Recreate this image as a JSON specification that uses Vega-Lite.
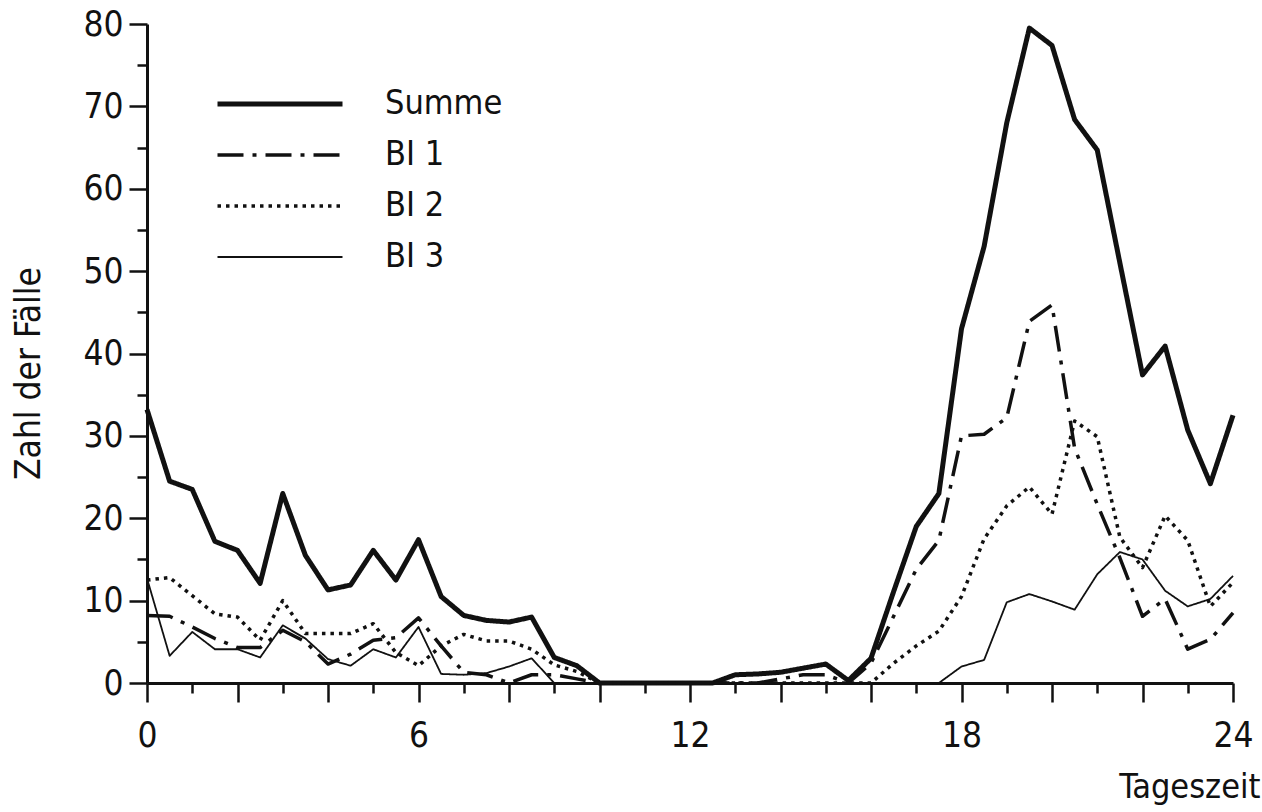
{
  "$schema": "https://vega.github.io/schema/vega-lite/v6.json",
  "width": 1086,
  "height": 659,
  "autosize": {"type": "none"},
  "padding": {"left": 147, "top": 24, "right": 29, "bottom": 129},
  "background": "white",
  "config": {
    "view": {"stroke": null},
    "font": "DejaVu Sans Condensed, DejaVu Sans",
    "axis": {
      "grid": false,
      "domainColor": "#111",
      "domainWidth": 3,
      "tickColor": "#111",
      "tickWidth": 2.5,
      "labelColor": "#111",
      "labelFont": "DejaVu Sans Condensed, DejaVu Sans",
      "labelFontSize": 35,
      "titleFont": "DejaVu Sans Condensed, DejaVu Sans",
      "titleColor": "#111",
      "titleFontWeight": "normal",
      "labelOverlap": false,
      "labelFlush": false,
      "labelBound": false
    },
    "legend": {
      "labelFont": "DejaVu Sans Condensed, DejaVu Sans"
    }
  },
  "data": {
    "values": [
      {"t": 0, "Summe": 33.2, "BI 1": 8.2, "BI 2": 12.5, "BI 3": 12.7},
      {"t": 0.5, "Summe": 24.5, "BI 1": 8.1, "BI 2": 12.8, "BI 3": 3.3},
      {"t": 1, "Summe": 23.5, "BI 1": 6.8, "BI 2": 10.6, "BI 3": 6.2},
      {"t": 1.5, "Summe": 17.2, "BI 1": 5.4, "BI 2": 8.4, "BI 3": 4.1},
      {"t": 2, "Summe": 16.1, "BI 1": 4.3, "BI 2": 8.0, "BI 3": 4.1},
      {"t": 2.5, "Summe": 12.1, "BI 1": 4.3, "BI 2": 5.2, "BI 3": 3.1},
      {"t": 3, "Summe": 23.0, "BI 1": 6.4, "BI 2": 10.0, "BI 3": 7.0},
      {"t": 3.5, "Summe": 15.5, "BI 1": 5.0, "BI 2": 6.0, "BI 3": 5.4},
      {"t": 4, "Summe": 11.3, "BI 1": 2.3, "BI 2": 6.0, "BI 3": 2.9},
      {"t": 4.5, "Summe": 11.9, "BI 1": 3.5, "BI 2": 6.0, "BI 3": 2.1},
      {"t": 5, "Summe": 16.1, "BI 1": 5.2, "BI 2": 7.2, "BI 3": 4.1},
      {"t": 5.5, "Summe": 12.5, "BI 1": 5.5, "BI 2": 3.7, "BI 3": 3.1},
      {"t": 6, "Summe": 17.4, "BI 1": 7.9, "BI 2": 2.1, "BI 3": 6.8},
      {"t": 6.5, "Summe": 10.5, "BI 1": 4.5, "BI 2": 4.5, "BI 3": 1.1},
      {"t": 7, "Summe": 8.2, "BI 1": 1.3, "BI 2": 5.9, "BI 3": 1.0},
      {"t": 7.5, "Summe": 7.6, "BI 1": 1.0, "BI 2": 5.1, "BI 3": 1.2},
      {"t": 8, "Summe": 7.4, "BI 1": 0, "BI 2": 5.1, "BI 3": 2.0},
      {"t": 8.5, "Summe": 8.0, "BI 1": 1.0, "BI 2": 4.1, "BI 3": 3.0},
      {"t": 9, "Summe": 3.1, "BI 1": 1.0, "BI 2": 2.2, "BI 3": 0},
      {"t": 9.5, "Summe": 2.1, "BI 1": 0.5, "BI 2": 1.4, "BI 3": 0},
      {"t": 10, "Summe": 0, "BI 1": 0, "BI 2": 0, "BI 3": 0},
      {"t": 10.5, "Summe": 0, "BI 1": 0, "BI 2": 0, "BI 3": 0},
      {"t": 11, "Summe": 0, "BI 1": 0, "BI 2": 0, "BI 3": 0},
      {"t": 11.5, "Summe": 0, "BI 1": 0, "BI 2": 0, "BI 3": 0},
      {"t": 12, "Summe": 0, "BI 1": 0, "BI 2": 0, "BI 3": 0},
      {"t": 12.5, "Summe": 0, "BI 1": 0, "BI 2": 0, "BI 3": 0},
      {"t": 13, "Summe": 1.0, "BI 1": 0, "BI 2": 0, "BI 3": 0},
      {"t": 13.5, "Summe": 1.1, "BI 1": 0, "BI 2": 0, "BI 3": 0},
      {"t": 14, "Summe": 1.3, "BI 1": 0.5, "BI 2": 0, "BI 3": 0},
      {"t": 14.5, "Summe": 1.8, "BI 1": 1.0, "BI 2": 0, "BI 3": 0},
      {"t": 15, "Summe": 2.3, "BI 1": 1.0, "BI 2": 0, "BI 3": 0},
      {"t": 15.5, "Summe": 0.3, "BI 1": 0, "BI 2": 0, "BI 3": 0},
      {"t": 16, "Summe": 3.0, "BI 1": 2.4, "BI 2": 0, "BI 3": 0},
      {"t": 16.5, "Summe": 11.1, "BI 1": 8.1, "BI 2": 2.4, "BI 3": 0},
      {"t": 17, "Summe": 19.0, "BI 1": 13.8, "BI 2": 4.5, "BI 3": 0},
      {"t": 17.5, "Summe": 23.0, "BI 1": 17.3, "BI 2": 6.3, "BI 3": 0},
      {"t": 18, "Summe": 43.0, "BI 1": 30.0, "BI 2": 10.5, "BI 3": 2.0},
      {"t": 18.5, "Summe": 53.0, "BI 1": 30.2, "BI 2": 17.5, "BI 3": 2.8},
      {"t": 19, "Summe": 68.0, "BI 1": 32.2, "BI 2": 21.5, "BI 3": 9.8},
      {"t": 19.5, "Summe": 79.5, "BI 1": 43.9, "BI 2": 23.8, "BI 3": 10.8},
      {"t": 20, "Summe": 77.4, "BI 1": 45.9, "BI 2": 20.5, "BI 3": 9.9},
      {"t": 20.5, "Summe": 68.4, "BI 1": 28.5, "BI 2": 31.8, "BI 3": 8.9},
      {"t": 21, "Summe": 64.7, "BI 1": 21.7, "BI 2": 29.9, "BI 3": 13.2},
      {"t": 21.5, "Summe": 51.0, "BI 1": 15.2, "BI 2": 17.7, "BI 3": 15.9},
      {"t": 22, "Summe": 37.4, "BI 1": 8.1, "BI 2": 14.0, "BI 3": 15.0},
      {"t": 22.5, "Summe": 40.9, "BI 1": 10.2, "BI 2": 20.3, "BI 3": 11.2},
      {"t": 23, "Summe": 30.7, "BI 1": 4.1, "BI 2": 17.3, "BI 3": 9.3},
      {"t": 23.5, "Summe": 24.2, "BI 1": 5.3, "BI 2": 9.3, "BI 3": 10.2},
      {"t": 24, "Summe": 32.5, "BI 1": 8.5, "BI 2": 12.2, "BI 3": 13.0}
    ]
  },
  "transform": [
    {"fold": ["Summe", "BI 1", "BI 2", "BI 3"], "as": ["Serie", "Anzahl"]}
  ],
  "mark": {"type": "line", "color": "#111", "strokeJoin": "round"},
  "encoding": {
    "x": {
      "field": "t",
      "type": "quantitative",
      "scale": {"domain": [0, 24], "nice": false, "zero": false},
      "axis": {
        "values": [0, 0.5, 1, 1.5, 2, 2.5, 3, 3.5, 4, 4.5, 5, 5.5, 6, 6.5, 7, 7.5, 8, 8.5, 9, 9.5, 10, 10.5, 11, 11.5, 12, 12.5, 13, 13.5, 14, 14.5, 15, 15.5, 16, 16.5, 17, 17.5, 18, 18.5, 19, 19.5, 20, 20.5, 21, 21.5, 22, 22.5, 23, 23.5, 24],
        "format": "d",
        "labelExpr": "datum.value % 6 === 0 ? format(datum.value, 'd') : ''",
        "tickSize": {"condition": {"test": "datum.value % 2 === 0", "value": 19}, "value": 10},
        "labelPadding": 16,
        "labelBaseline": "top",
        "title": "Tageszeit",
        "titleFontSize": 34,
        "titleAnchor": "end",
        "titleAlign": "right",
        "titleBaseline": "alphabetic",
        "titleX": 1113,
        "titleY": 114
      }
    },
    "y": {
      "field": "Anzahl",
      "type": "quantitative",
      "scale": {"domain": [0, 80], "nice": false},
      "axis": {
        "values": [0, 5, 10, 15, 20, 25, 30, 35, 40, 45, 50, 55, 60, 65, 70, 75, 80],
        "labelExpr": "datum.value % 10 === 0 ? datum.label : ''",
        "tickSize": {"condition": {"test": "datum.value % 10 === 0", "value": 18}, "value": 10},
        "labelPadding": 6,
        "title": "Zahl der Fälle",
        "titleFontSize": 35,
        "titleAngle": 270,
        "titleAlign": "center",
        "titleBaseline": "middle",
        "titleX": -119,
        "titleY": 349
      }
    },
    "strokeDash": {
      "field": "Serie",
      "type": "nominal",
      "scale": {"domain": ["Summe", "BI 1", "BI 2", "BI 3"], "range": [[1, 0], [26, 9, 4, 9], [3.5, 5], [1, 0]]},
      "legend": {
        "title": null,
        "orient": "none",
        "legendX": 68,
        "legendY": 55,
        "symbolType": "stroke",
        "symbolSize": 15625,
        "symbolStrokeColor": "#111",
        "clipHeight": 50,
        "rowPadding": 1,
        "labelFontSize": 34,
        "labelColor": "#111",
        "labelOffset": 40
      }
    },
    "strokeWidth": {
      "field": "Serie",
      "type": "nominal",
      "scale": {"type": "ordinal", "domain": ["Summe", "BI 1", "BI 2", "BI 3"], "range": [5, 3.5, 3.5, 1.8]},
      "legend": {
        "title": null,
        "orient": "none",
        "legendX": 68,
        "legendY": 55,
        "symbolType": "stroke",
        "symbolSize": 15625,
        "symbolStrokeColor": "#111",
        "clipHeight": 50,
        "rowPadding": 1,
        "labelFontSize": 34,
        "labelColor": "#111",
        "labelOffset": 40
      }
    }
  }
}
